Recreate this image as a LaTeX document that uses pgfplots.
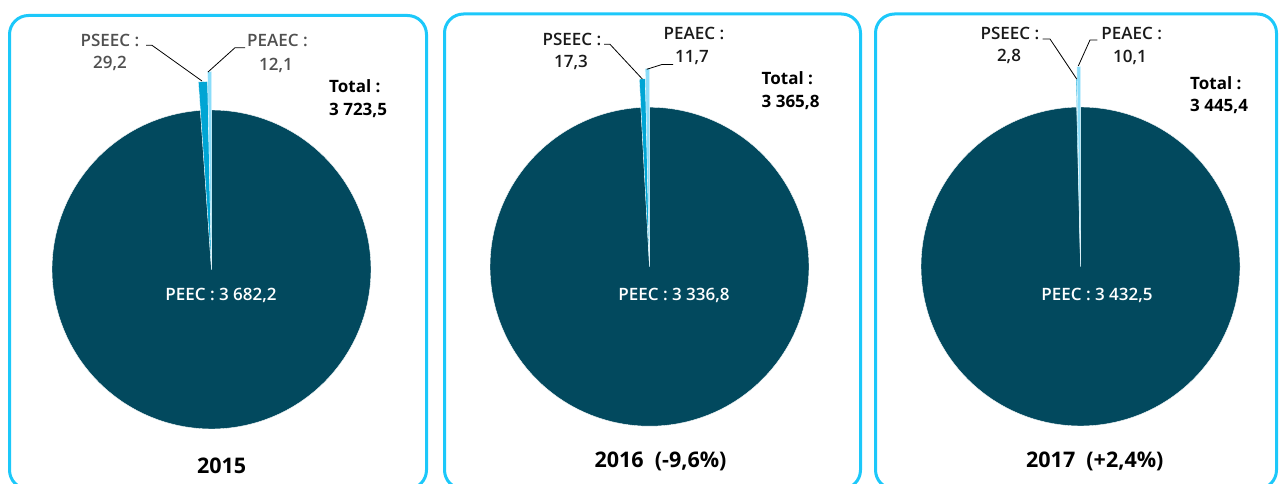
\documentclass[border=0pt]{standalone}
\usepackage{fontspec}
\setmainfont{Open Sans}[BoldFont={Open Sans Semibold}]
\newfontfamily\obf{Open Sans Bold}
\usepackage{pgfplots}
\pgfplotsset{compat=1.18}
\definecolor{peec}{HTML}{02495E}
\definecolor{pseec}{HTML}{00A5D4}
\definecolor{peaec}{HTML}{8ADDFA}
\definecolor{frame}{HTML}{1CC8FA}
\definecolor{labA}{HTML}{505050}
\definecolor{labB}{HTML}{1A1A1A}
% data: PEEC, PSEEC, PEAEC
\def\peecA{3682.2}\def\pseecA{29.2}\def\peaecA{12.1}
\def\peecB{3336.8}\def\pseecB{17.3}\def\peaecB{11.7}
\def\peecC{3432.5}\def\pseecC{2.8}\def\peaecC{10.1}
\pgfmathsetmacro\totA{\peecA+\pseecA+\peaecA}
\pgfmathsetmacro\eA{90+360*\peaecA/\totA}
\pgfmathsetmacro\sA{\eA+360*\pseecA/\totA}
\pgfmathsetmacro\totB{\peecB+\pseecB+\peaecB}
\pgfmathsetmacro\eB{90+360*\peaecB/\totB}
\pgfmathsetmacro\sB{\eB+360*\pseecB/\totB}
\pgfmathsetmacro\totC{\peecC+\pseecC+\peaecC}
\pgfmathsetmacro\eC{90+360*\peaecC/\totC}
\pgfmathsetmacro\sC{\eC+360*\pseecC/\totC}
\newcommand\lbl{\fontsize{17bp}{20bp}\selectfont}
\newcommand\tot{\fontsize{17bp}{20bp}\selectfont\obf}
\newcommand\yr{\fontsize{21.5bp}{26bp}\selectfont\obf}
\begin{document}
\begin{tikzpicture}
\begin{axis}[name=ax, x=1bp, y=1bp, y dir=reverse, xmin=0, xmax=1280, ymin=0, ymax=484,
  hide axis, clip=false, anchor=south west]
% frames
\draw[frame, line width=3bp, rounded corners=19bp] (axis cs:9.5,15.5) rectangle (axis cs:426.5,489);
\draw[frame, line width=3bp, rounded corners=19bp] (axis cs:444.5,14) rectangle (axis cs:860.5,489);
\draw[frame, line width=3bp, rounded corners=19bp] (axis cs:875.5,14) rectangle (axis cs:1276.5,489);
% pie 2015
\addplot[fill=peec, draw=white, line width=0.4bp, domain=\sA:450, samples=240, variable=\t] ({211.5+159.5*cos(\t)},{269.5-159.5*sin(\t)}) -- (axis cs:211.5,269.5) -- cycle;
\addplot[fill=pseec, draw=white, line width=0.3bp, domain=\eA:\sA, samples=4, variable=\t] ({211.5+188*cos(\t)},{269.5-188*sin(\t)}) -- (axis cs:211.5,269.5) -- cycle;
\addplot[fill=peaec, draw=white, line width=0.3bp, domain=90:\eA, samples=4, variable=\t] ({211.5+198*cos(\t)},{269.5-198*sin(\t)}) -- (axis cs:211.5,269.5) -- cycle;
% pie 2016
\addplot[fill=peec, draw=white, line width=0.4bp, domain=\sB:450, samples=240, variable=\t] ({649.5+159.5*cos(\t)},{266.7-159.5*sin(\t)}) -- (axis cs:649.5,266.7) -- cycle;
\addplot[fill=pseec, draw=white, line width=0.3bp, domain=\eB:\sB, samples=4, variable=\t] ({649.5+188*cos(\t)},{266.7-188*sin(\t)}) -- (axis cs:649.5,266.7) -- cycle;
\addplot[fill=peaec, draw=white, line width=0.3bp, domain=90:\eB, samples=4, variable=\t] ({649.5+198*cos(\t)},{266.7-198*sin(\t)}) -- (axis cs:649.5,266.7) -- cycle;
% pie 2017
\addplot[fill=peec, draw=white, line width=0.4bp, domain=\sC:450, samples=240, variable=\t] ({1080.5+159.5*cos(\t)},{266.5-159.5*sin(\t)}) -- (axis cs:1080.5,266.5) -- cycle;
\addplot[fill=pseec, draw=white, line width=0.2bp, domain=\eC:\sC, samples=3, variable=\t] ({1080.5+188*cos(\t)},{266.5-188*sin(\t)}) -- (axis cs:1080.5,266.5) -- cycle;
\addplot[fill=peaec, draw=white, line width=0.3bp, domain=90:\eC, samples=4, variable=\t] ({1080.5+200*cos(\t)},{266.5-200*sin(\t)}) -- (axis cs:1080.5,266.5) -- cycle;
% leader lines
\draw[black, line width=0.8bp] (axis cs:146,45.3) -- (axis cs:152,45.3) -- (axis cs:202,81);
\draw[black, line width=0.8bp] (axis cs:208,72) -- (axis cs:235,47.7) -- (axis cs:245,47.7);
\draw[black, line width=0.8bp] (axis cs:604,44.3) -- (axis cs:610,44.3) -- (axis cs:642.3,79);
\draw[black, line width=0.8bp] (axis cs:646.7,69.3) -- (axis cs:662,64.5) -- (axis cs:673,64.5);
\draw[black, line width=0.8bp] (axis cs:1042.7,39) -- (axis cs:1050,39) -- (axis cs:1076.7,79);
\draw[black, line width=0.8bp] (axis cs:1078.3,66) -- (axis cs:1090,40) -- (axis cs:1097.3,40);
% labels 2015
\node[text=labA, font=\lbl\bfseries] at (axis cs:110,40) {PSEEC :};
\node[text=labA, font=\lbl\bfseries] at (axis cs:110,63) {29,2};
\node[text=labA, font=\lbl\bfseries] at (axis cs:277.5,40) {PEAEC :};
\node[text=labA, font=\lbl\bfseries] at (axis cs:276,65) {12,1};
\node[anchor=west, inner sep=0pt, font=\tot] at (axis cs:329,86) {Total :};
\node[anchor=west, inner sep=0pt, font=\tot] at (axis cs:329,110) {3 723,5};
\node[text=white, font=\lbl\bfseries] at (axis cs:221,295) {PEEC : 3 682,2};
\node[font=\yr] at (axis cs:221.7,466) {2015};
% labels 2016
\node[text=labB, font=\lbl\bfseries] at (axis cs:572,39) {PSEEC :};
\node[text=labB, font=\lbl\bfseries] at (axis cs:571,62) {17,3};
\node[text=labB, font=\lbl\bfseries] at (axis cs:694,33) {PEAEC :};
\node[text=labB, font=\lbl\bfseries] at (axis cs:692,58) {11,7};
\node[anchor=west, inner sep=0pt, font=\tot] at (axis cs:761.5,78) {Total :};
\node[anchor=west, inner sep=0pt, font=\tot] at (axis cs:761.5,102) {3 365,8};
\node[text=white, font=\lbl\bfseries] at (axis cs:674,295) {PEEC : 3 336,8};
\node[font=\yr] at (axis cs:660.5,461.7) {2016~~(-9,6\%)};
% labels 2017
\node[text=labB, font=\lbl\bfseries] at (axis cs:1010,33) {PSEEC :};
\node[text=labB, font=\lbl\bfseries] at (axis cs:1009,56) {2,8};
\node[text=labB, font=\lbl\bfseries] at (axis cs:1131.7,33) {PEAEC :};
\node[text=labB, font=\lbl\bfseries] at (axis cs:1130,57) {10,1};
\node[anchor=west, inner sep=0pt, font=\tot] at (axis cs:1190,83) {Total :};
\node[anchor=west, inner sep=0pt, font=\tot] at (axis cs:1190,106) {3 445,4};
\node[text=white, font=\lbl\bfseries] at (axis cs:1097,295) {PEEC : 3 432,5};
\node[font=\yr] at (axis cs:1094.8,461.7) {2017~~(+2,4\%)};
\end{axis}
\pgfresetboundingbox
\useasboundingbox (ax.south west) rectangle (ax.north east);
\end{tikzpicture}
\end{document}
